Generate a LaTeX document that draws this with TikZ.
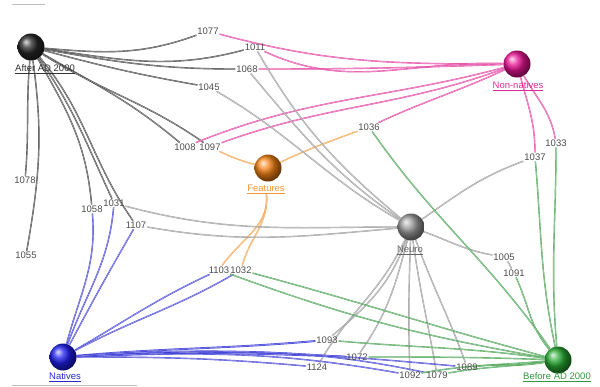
\documentclass[tikz,border=0pt]{standalone}
\usepackage{fontspec}
\setmainfont{Liberation Sans}
\pgfdeclarelayer{bg}
\pgfsetlayers{bg,main}
\definecolor{cBlack}{RGB}{40,40,40}
\definecolor{cMag}{RGB}{225,40,150}
\definecolor{cOra}{RGB}{240,150,50}
\definecolor{cGray}{RGB}{140,140,140}
\definecolor{cBlue}{RGB}{40,40,210}
\definecolor{cGreen}{RGB}{50,150,60}
\definecolor{bMag}{RGB}{235,20,150}
\definecolor{bOra}{RGB}{245,130,20}
\definecolor{bBlue}{RGB}{30,30,240}
\definecolor{bGreen}{RGB}{40,170,50}
\begin{document}
\begin{tikzpicture}[x=1pt,y=-1pt,
  item/.style={font=\fontsize{9.5}{10}\selectfont, text=black!70, inner sep=0.8pt},
  cat/.style={circle, minimum size=27pt, inner sep=0pt, shading=ball, ball color=#1},
  catlab/.style={font=\fontsize{9.5}{10}\selectfont, text=#1, inner sep=0.5pt},
  e/.style={draw=#1, line width=0.45pt, double=#1!35!white, double distance=0.5pt, opacity=0.85},
  faint/.style={draw=black!25, line width=0.8pt}]
\useasboundingbox (0,0) rectangle (600,386);
% category nodes
\node[cat=black!85] (A) at (31,47) {};
\node[catlab=black!80] (Alab) at (45,69) {\underline{After AD 2000}};
\node[cat=bMag] (N) at (517,64) {};
\node[catlab=cMag] (Nlab) at (518,86) {\underline{Non-natives}};
\node[cat=bOra] (F) at (268,168) {};
\node[catlab=cOra] (Flab) at (266,189) {\underline{Features}};
\node[cat=gray!80] (G) at (411,227) {};
\node[catlab=black!60] (Glab) at (410,250) {\underline{Neuro}};
\node[cat=bBlue] (B) at (63,357) {};
\node[catlab=cBlue] (Blab) at (65,377) {\underline{Natives}};
\node[cat=bGreen] (D) at (558,360) {};
\node[catlab=cGreen] (Dlab) at (557,377) {\underline{Before AD 2000}};
% item nodes
\node[item] (i1077) at (208,31) {1077};
\node[item] (i1011) at (255,47) {1011};
\node[item] (i1068) at (247,69) {1068};
\node[item] (i1045) at (209,87) {1045};
\node[item] (i1036) at (369,127) {1036};
\node[item] (i1008) at (185,147) {1008};
\node[item] (i1097) at (210,147) {1097};
\node[item] (i1033) at (556,143) {1033};
\node[item] (i1037) at (535,157) {1037};
\node[item] (i1078) at (25,180) {1078};
\node[item] (i1055) at (26,255) {1055};
\node[item] (i1058) at (92,209) {1058};
\node[item] (i1031) at (114,203) {1031};
\node[item] (i1107) at (136,225) {1107};
\node[item] (i1103) at (219,270) {1103};
\node[item] (i1032) at (241,270) {1032};
\node[item] (i1005) at (504,257) {1005};
\node[item] (i1091) at (514,273) {1091};
\node[item] (i1093) at (327,340) {1093};
\node[item] (i1072) at (357,357) {1072};
\node[item] (i1124) at (317,367) {1124};
\node[item] (i1092) at (410,375) {1092};
\node[item] (i1079) at (437,375) {1079};
\node[item] (i1089) at (467,367) {1089};
\begin{pgfonlayer}{bg}
\draw[faint] (12,4) -- (45,4);
\draw[faint] (12,385) -- (137,385);
% black: After AD 2000
\draw[e=cBlack] (A) to[out=-5,in=200] (i1077);
\draw[e=cBlack] (A) to[out=-8,in=195] (i1011);
\draw[e=cBlack] (A) to[out=-10,in=180] (i1068);
\draw[e=cBlack] (A) to[out=-15,in=170] (i1045);
\draw[e=cBlack] (A) to[out=-30,in=140] (i1008);
\draw[e=cBlack] (A) to[out=-32,in=145] (i1097);
\draw[e=cBlack] (A) to[out=-95,in=85] (i1078);
\draw[e=cBlack] (A) to[out=-82,in=80] (i1055);
\draw[e=cBlack] (A) to[out=-60,in=95] (i1058);
\draw[e=cBlack] (A) to[out=-55,in=115] (i1031);
\draw[e=cBlack] (A) to[out=-50,in=125] (i1107);
% magenta: Non-natives
\draw[e=cMag] (i1077) to[out=-15,in=180] (N);
\draw[e=cMag] (i1011) to[out=-25,in=178] (N);
\draw[e=cMag] (i1068) to[out=0,in=182] (N);
\draw[e=cMag] (i1008) to[out=22,in=195] (N);
\draw[e=cMag] (i1097) to[out=20,in=200] (N);
\draw[e=cMag] (i1036) to[out=25,in=205] (N);
\draw[e=cMag] (N) to[out=-60,in=100] (i1033);
\draw[e=cMag] (N) to[out=-75,in=90] (i1037);
% orange: Features
\draw[e=cOra] (F) to[bend left=5] (i1097);
\draw[e=cOra] (F) to[out=25,in=200] (i1036);
\draw[e=cOra] (Flab) to[out=-85,in=55] (i1103);
\draw[e=cOra] (Flab) to[out=-85,in=75] (i1032);
% gray: Neuro
\draw[e=cGray] (i1011) to[out=-60,in=140] (G);
\draw[e=cGray] (i1068) to[out=-50,in=145] (G);
\draw[e=cGray] (i1045) to[out=-30,in=150] (G);
\draw[e=cGray] (i1031) to[out=-15,in=180] (G);
\draw[e=cGray] (i1107) to[out=-10,in=185] (G);
\draw[e=cGray] (G) to[out=35,in=200] (i1037);
\draw[e=cGray] (G) to[out=-20,in=170] (i1005);
\draw[e=cGray] (i1005) to[out=-50,in=120] (i1091);
\draw[e=cGray] (G) to[out=-110,in=40] (i1093);
\draw[e=cGray] (G) to[out=-105,in=55] (i1072);
\draw[e=cGray] (G) to[out=-115,in=60] (i1124);
\draw[e=cGray] (G) to[out=-92,in=92] (i1092);
\draw[e=cGray] (G) to[out=-82,in=100] (i1079);
\draw[e=cGray] (G) to[out=-70,in=110] (i1089);
% blue: Natives
\draw[e=cBlue] (B) to[out=75,in=-85] (i1058);
\draw[e=cBlue] (B) to[out=70,in=-95] (i1031);
\draw[e=cBlue] (B) to[out=62,in=-120] (i1107);
\draw[e=cBlue] (B) to[out=30,in=205] (i1103);
\draw[e=cBlue] (B) to[out=28,in=210] (i1032);
\draw[e=cBlue, line width=0.7pt] (B) to[out=5,in=185] (i1093);
\draw[e=cBlue] (B) to[out=0,in=175] (i1124);
\draw[e=cBlue, line width=0.7pt] (B) to[out=3,in=178] (i1072);
\draw[e=cBlue] (B) to[out=2,in=170] (i1092);
\draw[e=cBlue] (B) to[out=2,in=168] (i1079);
\draw[e=cBlue] (B) to[out=4,in=175] (i1089);
% green: Before AD 2000
\draw[e=cGreen] (D) to[out=95,in=-90] (i1033);
\draw[e=cGreen] (D) to[out=102,in=-85] (i1037);
\draw[e=cGreen] (i1036) to[out=-55,in=125] (D);
\draw[e=cGreen] (i1091) to[out=-65,in=130] (D);
\draw[e=cGreen] (i1032) to[out=-15,in=165] (D);
\draw[e=cGreen] (i1103) to[out=-20,in=170] (D);
\draw[e=cGreen] (i1093) to[out=-5,in=172] (D);
\draw[e=cGreen] (i1072) to[out=0,in=178] (D);
\draw[e=cGreen] (i1092) to[out=10,in=185] (D);
\draw[e=cGreen] (i1079) to[out=10,in=188] (D);
\draw[e=cGreen] (i1089) to[out=5,in=190] (D);
\end{pgfonlayer}
\end{tikzpicture}
\end{document}
